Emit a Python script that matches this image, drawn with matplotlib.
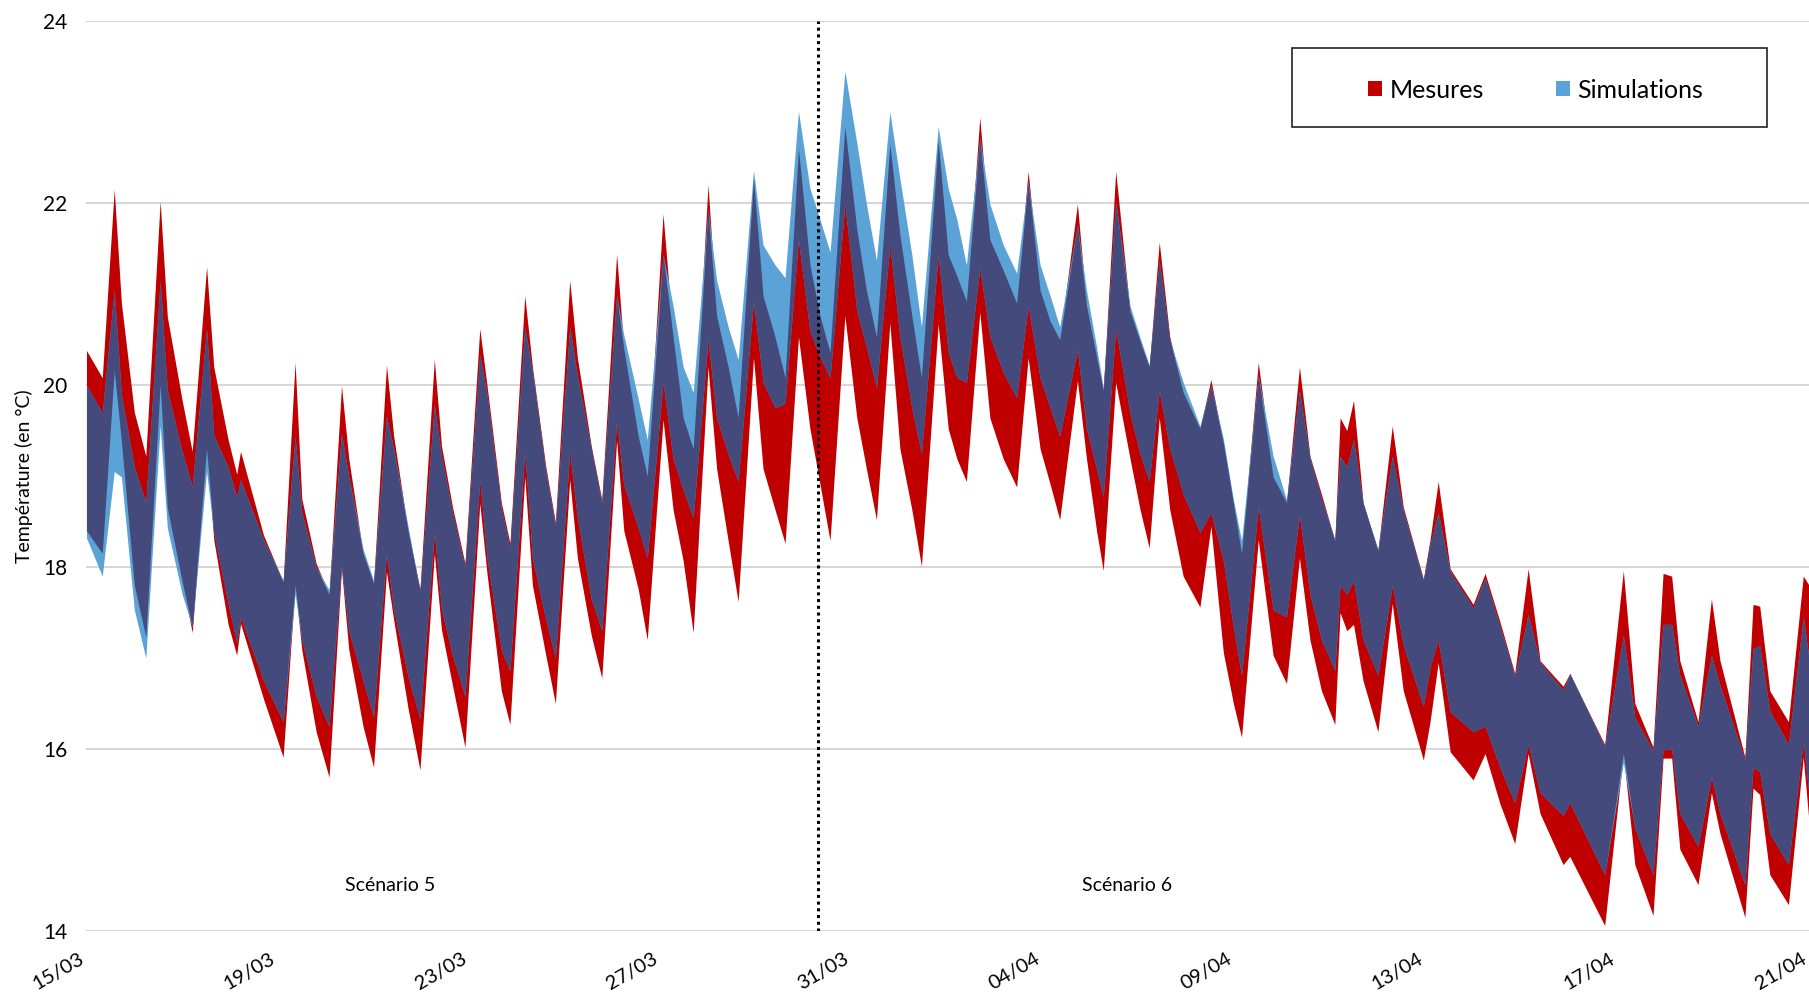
import numpy as np
import matplotlib
matplotlib.use("Agg")
import matplotlib.pyplot as plt
import matplotlib.transforms as mtransforms
from matplotlib.patches import Patch, Rectangle

plt.rcParams['font.family'] = ['Lato', 'DejaVu Sans']

# time in days from 15/03 (category axis, 4 days per label)
t_days = [0.00, 0.33, 0.58, 0.73, 1.00, 1.24, 1.54, 1.69, 2.00, 2.21,
          2.51, 2.66, 2.96, 3.14, 3.22, 3.70, 4.11, 4.36, 4.50, 4.80,
          5.07, 5.33, 5.48, 5.78, 6.00, 6.27, 6.42, 6.72, 6.97, 7.27,
          7.42, 7.65, 7.91, 8.22, 8.37, 8.67, 8.85, 9.16, 9.32, 9.60,
          9.80, 10.10, 10.26, 10.55, 10.77, 11.08, 11.23, 11.53, 11.72, 12.05,
          12.26, 12.47, 12.68, 12.99, 13.17, 13.41, 13.62, 13.94, 14.14, 14.39,
          14.60, 14.88, 15.12, 15.33, 15.54, 15.85, 16.10, 16.30, 16.51, 16.79,
          17.00, 17.25, 17.45, 17.80, 18.01, 18.19, 18.39, 18.67, 18.88, 19.16,
          19.44, 19.68, 19.93, 20.14, 20.34, 20.71, 20.90, 21.11, 21.25, 21.51,
          21.81, 22.02, 22.21, 22.42, 22.64, 22.92, 23.27, 23.50, 23.76, 23.97,
          24.14, 24.49, 24.80, 25.08, 25.35, 25.57, 25.81, 26.09, 26.20, 26.34,
          26.48, 26.68, 26.99, 27.29, 27.52, 27.94, 28.08, 28.25, 28.50, 28.98,
          29.23, 29.54, 29.85, 30.13, 30.38, 30.86, 31.00, 31.73, 32.12, 32.36,
          32.74, 32.95, 33.13, 33.30, 33.68, 33.96, 34.14, 34.66, 34.83, 34.97,
          35.18, 35.57, 35.88, 36.00]

mes_max = [20.38, 20.08, 22.15, 20.90, 19.70, 19.22, 22.02, 20.75, 19.83, 19.27,
           21.30, 20.20, 19.40, 19.02, 19.27, 18.35, 17.84, 20.25, 18.75, 18.04,
           17.70, 19.99, 19.20, 18.15, 17.82, 20.22, 19.44, 18.40, 17.76, 20.28,
           19.33, 18.66, 18.04, 20.62, 20.00, 18.71, 18.26, 20.98, 20.20, 19.10,
           18.49, 21.15, 20.30, 19.33, 18.74, 21.44, 20.40, 19.44, 19.00, 21.88,
           20.53, 19.64, 19.30, 22.20, 20.76, 20.20, 19.64, 22.27, 20.98, 20.53,
           20.08, 22.60, 21.32, 20.76, 20.36, 22.84, 21.71, 21.04, 20.53, 22.65,
           21.65, 20.76, 20.08, 22.69, 21.43, 21.20, 20.92, 22.94, 21.60, 21.26,
           20.90, 22.35, 21.04, 20.70, 20.50, 21.99, 20.87, 20.31, 19.94, 22.35,
           20.81, 20.48, 20.20, 21.57, 20.53, 19.92, 19.52, 20.06, 19.36, 18.70,
           18.15, 20.25, 18.99, 18.71, 20.20, 19.22, 18.80, 18.29, 19.64, 19.50,
           19.83, 18.71, 18.18, 19.55, 18.66, 17.87, 18.30, 18.94, 17.98, 17.59,
           17.93, 17.40, 16.83, 17.98, 16.97, 16.69, 16.83, 16.05, 17.96, 16.50,
           16.02, 17.93, 17.90, 16.97, 16.30, 17.65, 16.97, 15.91, 17.59, 17.57,
           16.64, 16.30, 17.90, 17.80]

sim_max = [20.00, 19.69, 21.05, 19.89, 19.10, 18.71, 21.15, 19.94, 19.27, 18.88,
           20.62, 19.45, 19.10, 18.77, 18.96, 18.30, 17.85, 19.44, 18.60, 18.00,
           17.75, 19.47, 19.00, 18.20, 17.85, 19.66, 19.30, 18.45, 17.73, 19.78,
           19.22, 18.60, 18.00, 20.34, 19.90, 18.65, 18.20, 20.64, 20.15, 19.05,
           18.45, 20.64, 20.10, 19.30, 18.70, 20.99, 20.55, 19.85, 19.40, 21.44,
           20.87, 20.20, 19.92, 21.93, 21.15, 20.64, 20.28, 22.36, 21.54, 21.32,
           21.18, 23.01, 22.16, 21.82, 21.46, 23.45, 22.66, 21.99, 21.37, 23.00,
           22.27, 21.43, 20.64, 22.84, 22.16, 21.82, 21.32, 22.72, 21.99, 21.54,
           21.23, 22.24, 21.32, 20.98, 20.64, 21.76, 21.04, 20.42, 19.97, 22.02,
           20.87, 20.52, 20.22, 21.37, 20.50, 20.03, 19.55, 20.00, 19.41, 18.74,
           18.29, 20.11, 19.22, 18.74, 19.94, 19.20, 18.75, 18.30, 19.22, 19.10,
           19.40, 18.70, 18.20, 19.22, 18.62, 17.85, 18.25, 18.60, 17.95, 17.55,
           17.88, 17.35, 16.80, 17.48, 16.95, 16.65, 16.83, 16.03, 17.25, 16.35,
           15.98, 17.37, 17.37, 16.81, 16.25, 17.03, 16.70, 15.88, 17.10, 17.14,
           16.42, 16.05, 17.45, 17.00]

mes_min = [18.40, 18.15, 20.16, 19.38, 17.80, 17.23, 20.00, 18.65, 17.84, 17.28,
           19.30, 18.30, 17.37, 17.03, 17.38, 16.55, 15.91, 17.80, 17.09, 16.19,
           15.69, 17.98, 17.10, 16.25, 15.80, 17.95, 17.42, 16.45, 15.77, 18.15,
           17.31, 16.70, 16.02, 18.70, 17.93, 16.64, 16.27, 18.99, 17.80, 17.03,
           16.50, 18.96, 18.10, 17.25, 16.78, 19.39, 18.40, 17.76, 17.20, 19.62,
           18.63, 18.07, 17.28, 20.20, 19.08, 18.29, 17.62, 20.30, 19.08, 18.63,
           18.26, 20.53, 19.52, 18.91, 18.29, 20.76, 19.64, 19.08, 18.52, 20.68,
           19.30, 18.63, 18.01, 20.67, 19.52, 19.19, 18.94, 20.80, 19.64, 19.19,
           18.88, 20.30, 19.30, 18.91, 18.52, 20.05, 19.19, 18.40, 17.96, 20.03,
           19.19, 18.63, 18.21, 19.64, 18.63, 17.90, 17.56, 18.45, 17.06, 16.50,
           16.13, 18.30, 17.03, 16.72, 18.10, 17.20, 16.64, 16.27, 17.50, 17.30,
           17.37, 16.75, 16.19, 17.60, 16.64, 15.88, 16.30, 16.95, 15.97, 15.66,
           15.95, 15.40, 14.96, 15.95, 15.29, 14.73, 14.82, 14.06, 15.95, 14.73,
           14.17, 15.90, 15.90, 14.90, 14.51, 15.52, 15.07, 14.15, 15.57, 15.50,
           14.62, 14.29, 15.91, 15.20]

sim_min = [18.32, 17.90, 19.05, 18.99, 17.53, 17.00, 19.55, 18.43, 17.70, 17.34,
           19.05, 18.38, 17.60, 17.17, 17.45, 16.75, 16.30, 17.70, 17.20, 16.58,
           16.25, 18.02, 17.30, 16.75, 16.35, 18.15, 17.53, 16.80, 16.33, 18.38,
           17.53, 17.03, 16.58, 18.96, 18.10, 17.09, 16.86, 19.27, 18.10, 17.42,
           17.00, 19.27, 18.54, 17.65, 17.30, 19.60, 18.90, 18.43, 18.10, 20.03,
           19.19, 18.85, 18.54, 20.50, 19.64, 19.24, 18.94, 20.92, 20.03, 19.75,
           19.80, 21.60, 20.59, 20.31, 20.08, 21.99, 20.81, 20.42, 19.97, 21.54,
           20.53, 19.75, 19.24, 21.43, 20.36, 20.08, 20.03, 21.29, 20.53, 20.14,
           19.86, 20.87, 20.08, 19.75, 19.44, 20.39, 19.52, 19.08, 18.77, 20.62,
           19.69, 19.24, 18.94, 19.94, 19.30, 18.80, 18.38, 18.60, 18.07, 17.34,
           16.81, 18.66, 17.53, 17.45, 18.57, 17.70, 17.20, 16.86, 17.80, 17.70,
           17.85, 17.20, 16.81, 17.80, 17.14, 16.47, 16.90, 17.20, 16.41, 16.19,
           16.25, 15.80, 15.41, 16.05, 15.52, 15.27, 15.41, 14.62, 15.85, 15.13,
           14.62, 15.99, 16.00, 15.29, 14.93, 15.69, 15.29, 14.51, 15.80, 15.75,
           15.07, 14.73, 16.08, 15.50]

tick_labels = ['15/03', '19/03', '23/03', '27/03', '31/03',
               '04/04', '09/04', '13/04', '17/04', '21/04']
scenario_labels = ['Scénario 5', 'Scénario 6']
scenario_x = [6.35, 21.74]
scenario_y = 14.5
scenario_split = 15.28
series_names = ['Mesures', 'Simulations']

RED = '#C00000'
BLUE = '#5BA2D6'
NAVY = '#444A7C'

t = np.array(t_days)
mmax, mmin = np.array(mes_max), np.array(mes_min)
smax, smin = np.array(sim_max), np.array(sim_min)

fig = plt.figure(figsize=(18.09, 9.92), dpi=100)
ax = fig.add_axes([0.0478, 0.0615, 0.9522, 0.9173])

ax.fill_between(t, mmin, mmax, color=RED, lw=0)
ax.fill_between(t, smin, smax, color=BLUE, lw=0)
lo = np.maximum(mmin, smin)
hi = np.minimum(mmax, smax)
ax.fill_between(t, lo, hi, where=hi > lo, interpolate=True, color=NAVY, lw=0)

ax.set_xlim(0, 36)
ax.set_ylim(14, 24)
ax.set_yticks([14, 16, 18, 20, 22, 24])
ax.set_xticks(np.arange(len(tick_labels)) * 4)
ax.set_xticklabels(tick_labels, rotation=30, ha='right', va='top', fontsize=14.5)
offset = mtransforms.ScaledTranslation(5 / 100, 0, fig.dpi_scale_trans)
for lab in ax.get_xticklabels():
    lab.set_transform(lab.get_transform() + offset)
ax.tick_params(axis='y', length=0, pad=14, labelsize=15)
ax.tick_params(axis='x', length=0, pad=14)
ax.grid(axis='y', color='#D0D0D0', lw=1.2)
ax.set_axisbelow(True)
for s in ax.spines.values():
    s.set_visible(False)

ax.axvline(scenario_split, ymin=0, ymax=1, color='black', lw=2.2, ls=(0, (1, 1.2)))
for lab, x in zip(scenario_labels, scenario_x):
    ax.text(x, scenario_y, lab, ha='center', va='center', fontsize=14)

ax.set_ylabel('Température (en °C)', fontsize=14)
ax.yaxis.set_label_coords(-0.031, 0.5)

handles = [Patch(facecolor=RED, edgecolor='none'), Patch(facecolor=BLUE, edgecolor='none')]
fig.legend(handles, series_names, loc='center', bbox_to_anchor=(0.849, 0.909),
           ncol=2, frameon=False, fontsize=18, handlelength=0.55, handleheight=0.55,
           handletextpad=0.3, columnspacing=2.9)
fig.patches.append(Rectangle((0.7142, 0.872), 0.2626, 0.0796, transform=fig.transFigure,
                             fill=False, edgecolor='#222222', lw=1.2))

fig.savefig('out.png', dpi=100)
